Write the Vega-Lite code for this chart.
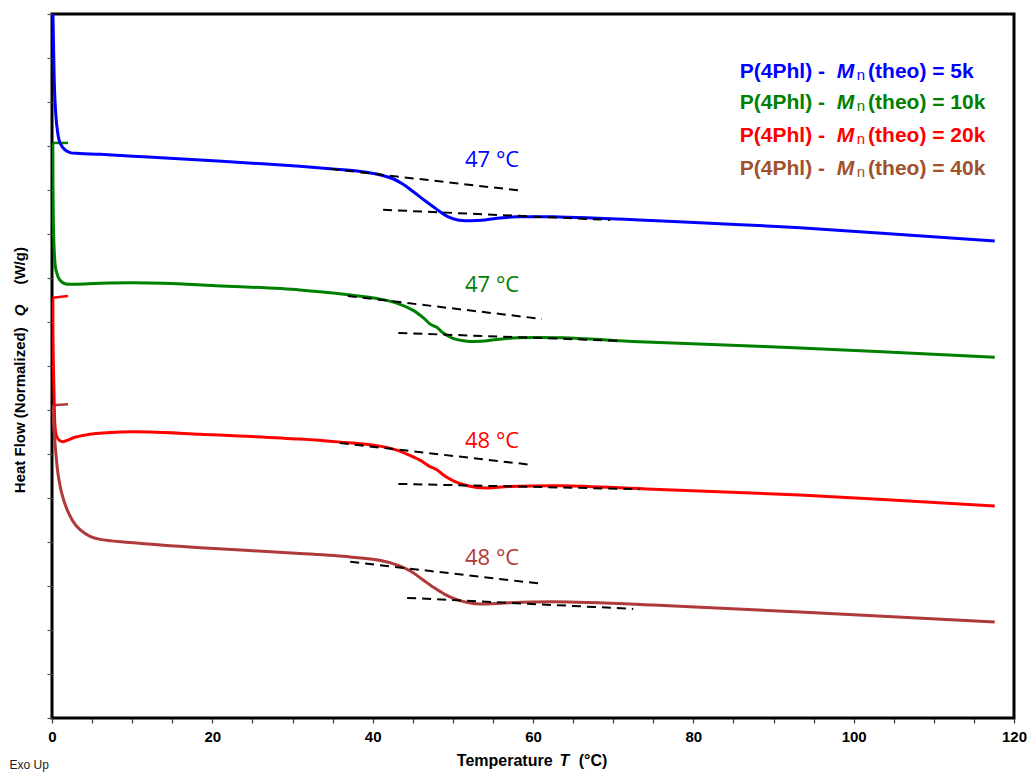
{
  "$schema": "https://vega.github.io/schema/vega-lite/v6.json",
  "width": 962,
  "height": 704,
  "autosize": {"type": "none"},
  "padding": {"left": 52, "top": 14, "right": 13, "bottom": 60},
  "background": "white",
  "config": {
    "view": {"stroke": "black", "strokeWidth": 3},
    "axis": {"grid": false, "domain": false}
  },
  "datasets": {
    "curves": [
      {"s": "5k", "i": 1, "T": 0.06, "Q": 16.32},
      {"s": "5k", "i": 2, "T": 0.12, "Q": 16.0},
      {"s": "5k", "i": 3, "T": 0.25, "Q": 14.73},
      {"s": "5k", "i": 4, "T": 0.37, "Q": 14.05},
      {"s": "5k", "i": 5, "T": 0.62, "Q": 13.43},
      {"s": "5k", "i": 6, "T": 1.0, "Q": 13.07},
      {"s": "5k", "i": 7, "T": 1.62, "Q": 12.91},
      {"s": "5k", "i": 8, "T": 2.25, "Q": 12.85},
      {"s": "5k", "i": 9, "T": 3.5, "Q": 12.83},
      {"s": "5k", "i": 10, "T": 6.0, "Q": 12.81},
      {"s": "5k", "i": 11, "T": 12.0, "Q": 12.75},
      {"s": "5k", "i": 12, "T": 18.5, "Q": 12.68},
      {"s": "5k", "i": 13, "T": 25.0, "Q": 12.61},
      {"s": "5k", "i": 14, "T": 30.9, "Q": 12.54},
      {"s": "5k", "i": 15, "T": 35.0, "Q": 12.48},
      {"s": "5k", "i": 16, "T": 38.5, "Q": 12.42},
      {"s": "5k", "i": 17, "T": 41.0, "Q": 12.34},
      {"s": "5k", "i": 18, "T": 42.6, "Q": 12.25},
      {"s": "5k", "i": 19, "T": 43.7, "Q": 12.14},
      {"s": "5k", "i": 20, "T": 45.0, "Q": 11.97},
      {"s": "5k", "i": 21, "T": 46.5, "Q": 11.76},
      {"s": "5k", "i": 22, "T": 48.0, "Q": 11.56},
      {"s": "5k", "i": 23, "T": 49.3, "Q": 11.40},
      {"s": "5k", "i": 24, "T": 50.6, "Q": 11.32},
      {"s": "5k", "i": 25, "T": 52.0, "Q": 11.30},
      {"s": "5k", "i": 26, "T": 53.6, "Q": 11.31},
      {"s": "5k", "i": 27, "T": 55.5, "Q": 11.36},
      {"s": "5k", "i": 28, "T": 58.0, "Q": 11.39},
      {"s": "5k", "i": 29, "T": 62.5, "Q": 11.39},
      {"s": "5k", "i": 30, "T": 73.3, "Q": 11.32},
      {"s": "5k", "i": 31, "T": 93.3, "Q": 11.14},
      {"s": "5k", "i": 32, "T": 117.6, "Q": 10.84},

      {"s": "10k", "i": 2, "T": 0.1, "Q": 13.07},
      {"s": "10k", "i": 3, "T": 0.14, "Q": 11.77},
      {"s": "10k", "i": 4, "T": 0.27, "Q": 10.64},
      {"s": "10k", "i": 5, "T": 0.5, "Q": 10.18},
      {"s": "10k", "i": 6, "T": 1.0, "Q": 9.95},
      {"s": "10k", "i": 7, "T": 1.62, "Q": 9.87},
      {"s": "10k", "i": 8, "T": 2.87, "Q": 9.86},
      {"s": "10k", "i": 9, "T": 6.0, "Q": 9.88},
      {"s": "10k", "i": 10, "T": 10.0, "Q": 9.89},
      {"s": "10k", "i": 11, "T": 14.0, "Q": 9.88},
      {"s": "10k", "i": 12, "T": 20.0, "Q": 9.83},
      {"s": "10k", "i": 13, "T": 30.9, "Q": 9.73},
      {"s": "10k", "i": 14, "T": 37.0, "Q": 9.62},
      {"s": "10k", "i": 15, "T": 41.0, "Q": 9.52},
      {"s": "10k", "i": 16, "T": 43.0, "Q": 9.43},
      {"s": "10k", "i": 17, "T": 45.0, "Q": 9.27},
      {"s": "10k", "i": 18, "T": 46.3, "Q": 9.10},
      {"s": "10k", "i": 19, "T": 47.2, "Q": 8.95},
      {"s": "10k", "i": 20, "T": 48.0, "Q": 8.88},
      {"s": "10k", "i": 21, "T": 48.8, "Q": 8.75},
      {"s": "10k", "i": 22, "T": 50.0, "Q": 8.63},
      {"s": "10k", "i": 23, "T": 51.5, "Q": 8.57},
      {"s": "10k", "i": 24, "T": 53.4, "Q": 8.56},
      {"s": "10k", "i": 25, "T": 55.5, "Q": 8.60},
      {"s": "10k", "i": 26, "T": 58.0, "Q": 8.64},
      {"s": "10k", "i": 27, "T": 63.7, "Q": 8.64},
      {"s": "10k", "i": 28, "T": 73.3, "Q": 8.55},
      {"s": "10k", "i": 29, "T": 93.3, "Q": 8.41},
      {"s": "10k", "i": 30, "T": 117.6, "Q": 8.2},

      {"s": "20k", "i": 2, "T": 0.1, "Q": 9.55},
      {"s": "20k", "i": 3, "T": 0.14, "Q": 8.36},
      {"s": "20k", "i": 4, "T": 0.27, "Q": 7.23},
      {"s": "20k", "i": 5, "T": 0.39, "Q": 6.6},
      {"s": "20k", "i": 6, "T": 0.62, "Q": 6.38},
      {"s": "20k", "i": 7, "T": 1.0, "Q": 6.3},
      {"s": "20k", "i": 8, "T": 1.37, "Q": 6.28},
      {"s": "20k", "i": 9, "T": 1.87, "Q": 6.31},
      {"s": "20k", "i": 10, "T": 2.87, "Q": 6.38},
      {"s": "20k", "i": 11, "T": 4.74, "Q": 6.45},
      {"s": "20k", "i": 12, "T": 8.5, "Q": 6.5},
      {"s": "20k", "i": 13, "T": 12.2, "Q": 6.5},
      {"s": "20k", "i": 14, "T": 18.5, "Q": 6.45},
      {"s": "20k", "i": 15, "T": 30.9, "Q": 6.34},
      {"s": "20k", "i": 16, "T": 36.0, "Q": 6.27},
      {"s": "20k", "i": 17, "T": 40.5, "Q": 6.19},
      {"s": "20k", "i": 18, "T": 42.8, "Q": 6.1},
      {"s": "20k", "i": 19, "T": 44.5, "Q": 5.98},
      {"s": "20k", "i": 20, "T": 45.9, "Q": 5.86},
      {"s": "20k", "i": 21, "T": 47.1, "Q": 5.72},
      {"s": "20k", "i": 22, "T": 48.0, "Q": 5.64},
      {"s": "20k", "i": 23, "T": 49.0, "Q": 5.5},
      {"s": "20k", "i": 24, "T": 50.2, "Q": 5.38},
      {"s": "20k", "i": 25, "T": 51.6, "Q": 5.29},
      {"s": "20k", "i": 26, "T": 53.0, "Q": 5.24},
      {"s": "20k", "i": 27, "T": 54.5, "Q": 5.23},
      {"s": "20k", "i": 28, "T": 57.0, "Q": 5.26},
      {"s": "20k", "i": 29, "T": 63.4, "Q": 5.28},
      {"s": "20k", "i": 30, "T": 75.0, "Q": 5.2},
      {"s": "20k", "i": 31, "T": 93.3, "Q": 5.07},
      {"s": "20k", "i": 32, "T": 117.6, "Q": 4.82},

      {"s": "40k", "i": 2, "T": 0.1, "Q": 7.11},
      {"s": "40k", "i": 3, "T": 0.14, "Q": 6.9},
      {"s": "40k", "i": 4, "T": 0.27, "Q": 6.5},
      {"s": "40k", "i": 5, "T": 0.5, "Q": 5.98},
      {"s": "40k", "i": 6, "T": 0.75, "Q": 5.55},
      {"s": "40k", "i": 7, "T": 1.25, "Q": 5.08},
      {"s": "40k", "i": 8, "T": 1.87, "Q": 4.74},
      {"s": "40k", "i": 9, "T": 2.62, "Q": 4.47},
      {"s": "40k", "i": 10, "T": 3.49, "Q": 4.28},
      {"s": "40k", "i": 11, "T": 4.74, "Q": 4.13},
      {"s": "40k", "i": 12, "T": 6.0, "Q": 4.06},
      {"s": "40k", "i": 13, "T": 9.7, "Q": 3.99},
      {"s": "40k", "i": 14, "T": 18.5, "Q": 3.87},
      {"s": "40k", "i": 15, "T": 30.9, "Q": 3.74},
      {"s": "40k", "i": 16, "T": 37.2, "Q": 3.66},
      {"s": "40k", "i": 17, "T": 41.0, "Q": 3.58},
      {"s": "40k", "i": 18, "T": 43.2, "Q": 3.47},
      {"s": "40k", "i": 19, "T": 44.7, "Q": 3.34},
      {"s": "40k", "i": 20, "T": 46.2, "Q": 3.15},
      {"s": "40k", "i": 21, "T": 47.5, "Q": 2.98},
      {"s": "40k", "i": 22, "T": 49.0, "Q": 2.81},
      {"s": "40k", "i": 23, "T": 50.5, "Q": 2.69},
      {"s": "40k", "i": 24, "T": 52.0, "Q": 2.62},
      {"s": "40k", "i": 25, "T": 53.5, "Q": 2.59},
      {"s": "40k", "i": 26, "T": 56.0, "Q": 2.61},
      {"s": "40k", "i": 27, "T": 62.5, "Q": 2.64},
      {"s": "40k", "i": 28, "T": 75.0, "Q": 2.57},
      {"s": "40k", "i": 29, "T": 93.3, "Q": 2.41},
      {"s": "40k", "i": 30, "T": 117.6, "Q": 2.18}
    ],
    "flags": [
      {"s": "10k", "T": 2.0, "Q": 13.07},
      {"s": "10k", "T": 0.1, "Q": 13.07},
      {"s": "20k", "T": 2.0, "Q": 9.59},
      {"s": "20k", "T": 0.1, "Q": 9.55},
      {"s": "40k", "T": 2.0, "Q": 7.13},
      {"s": "40k", "T": 0.1, "Q": 7.11}
    ],
    "tangents": [
      {"seg": "b1", "T": 34.7, "Q": 12.48},
      {"seg": "b1", "T": 58.75, "Q": 11.98},
      {"seg": "b2", "T": 41.3, "Q": 11.55},
      {"seg": "b2", "T": 69.6, "Q": 11.32},
      {"seg": "g1", "T": 36.9, "Q": 9.59},
      {"seg": "g1", "T": 61.1, "Q": 9.07},
      {"seg": "g2", "T": 43.2, "Q": 8.75},
      {"seg": "g2", "T": 71.2, "Q": 8.57},
      {"seg": "r1", "T": 35.9, "Q": 6.25},
      {"seg": "r1", "T": 60.0, "Q": 5.75},
      {"seg": "r2", "T": 43.2, "Q": 5.32},
      {"seg": "r2", "T": 73.3, "Q": 5.2},
      {"seg": "w1", "T": 37.2, "Q": 3.55},
      {"seg": "w1", "T": 61.1, "Q": 3.05},
      {"seg": "w2", "T": 44.3, "Q": 2.73},
      {"seg": "w2", "T": 72.5, "Q": 2.48}
    ],
    "tg": [
      {"s": "5k", "T": 54.9, "Q": 12.68, "text": "47 °C"},
      {"s": "10k", "T": 54.9, "Q": 9.84, "text": "47 °C"},
      {"s": "20k", "T": 54.9, "Q": 6.3, "text": "48 °C"},
      {"s": "40k", "T": 54.9, "Q": 3.64, "text": "48 °C"}
    ],
    "legend": [
      {"s": "5k", "part": "a", "T": 85.8, "Q": 14.68, "text": "P(4Phl) -"},
      {"s": "5k", "part": "M", "T": 97.9, "Q": 14.68, "text": "M"},
      {"s": "5k", "part": "n", "T": 100.4, "Q": 14.68, "text": "n"},
      {"s": "5k", "part": "r", "T": 101.8, "Q": 14.68, "text": "(theo) = 5k"},
      {"s": "10k", "part": "a", "T": 85.8, "Q": 13.98, "text": "P(4Phl) -"},
      {"s": "10k", "part": "M", "T": 97.9, "Q": 13.98, "text": "M"},
      {"s": "10k", "part": "n", "T": 100.4, "Q": 13.98, "text": "n"},
      {"s": "10k", "part": "r", "T": 101.8, "Q": 13.98, "text": "(theo) = 10k"},
      {"s": "20k", "part": "a", "T": 85.8, "Q": 13.23, "text": "P(4Phl) -"},
      {"s": "20k", "part": "M", "T": 97.9, "Q": 13.23, "text": "M"},
      {"s": "20k", "part": "n", "T": 100.4, "Q": 13.23, "text": "n"},
      {"s": "20k", "part": "r", "T": 101.8, "Q": 13.23, "text": "(theo) = 20k"},
      {"s": "40L", "part": "a", "T": 85.8, "Q": 12.48, "text": "P(4Phl) -"},
      {"s": "40L", "part": "M", "T": 97.9, "Q": 12.48, "text": "M"},
      {"s": "40L", "part": "n", "T": 100.4, "Q": 12.48, "text": "n"},
      {"s": "40L", "part": "r", "T": 101.8, "Q": 12.48, "text": "(theo) = 40k"}
    ],
    "titles": [
      {"part": "xa", "T": 50.5, "Q": -0.98, "text": "Temperature"},
      {"part": "xT", "T": 63.3, "Q": -0.98, "text": "T"},
      {"part": "xc", "T": 65.7, "Q": -0.98, "text": "(°C)"},
      {"part": "ya", "T": -4.0, "Q": 5.11, "text": "Heat Flow (Normalized)"},
      {"part": "yQ", "T": -4.0, "Q": 9.13, "text": "Q"},
      {"part": "yc", "T": -4.0, "Q": 9.85, "text": "(W/g)"},
      {"part": "exo", "T": -5.3, "Q": -1.07, "text": "Exo Up"}
    ]
  },
  "encoding": {
    "x": {
      "field": "T", "type": "quantitative",
      "scale": {"domain": [0, 120], "nice": false, "zero": false},
      "axis": {
        "values": [0,5,10,15,20,25,30,35,40,45,50,55,60,65,70,75,80,85,90,95,100,105,110,115,120],
        "labelExpr": "datum.value % 20 === 0 ? datum.label : ''",
        "title": null, "tickSize": 5, "tickColor": "#333", "tickWidth": 1.2,
        "labelFont": "Liberation Sans", "labelFontWeight": "bold", "labelFontSize": 15,
        "labelColor": "black", "labelPadding": 6, "labelFlush": false, "labelOverlap": false
      }
    },
    "y": {
      "field": "Q", "type": "quantitative",
      "scale": {"domain": [0, 16], "nice": false, "zero": false},
      "axis": {
        "values": [0,1,2,3,4,5,6,7,8,9,10,11,12,13,14,15,16],
        "labels": false, "title": null, "tickSize": 5, "tickColor": "#555", "tickWidth": 1.2
      }
    },
    "color": {
      "field": "s", "type": "nominal",
      "scale": {"domain": ["5k", "10k", "20k", "40k", "40L"], "range": ["#0000FF", "#008000", "#FF0000", "#B03A3A", "#A0522D"]},
      "legend": null
    }
  },
  "layer": [
    {
      "data": {"name": "flags"},
      "mark": {"type": "line", "strokeWidth": 2.5, "clip": true},
      "encoding": {}
    },
    {
      "data": {"name": "curves"},
      "mark": {"type": "line", "strokeWidth": 3, "clip": true, "interpolate": "catmull-rom"},
      "encoding": {"order": {"field": "i", "type": "quantitative"}}
    },
    {
      "data": {"name": "tangents"},
      "mark": {"type": "line", "strokeWidth": 2, "strokeDash": [9, 6]},
      "encoding": {"detail": {"field": "seg", "type": "nominal"}, "color": {"value": "black"}}
    },
    {
      "data": {"name": "tg"},
      "mark": {"type": "text", "font": "Open Sans", "fontSize": 22, "align": "center", "baseline": "middle"},
      "encoding": {"text": {"field": "text"}}
    },
    {
      "data": {"name": "legend"},
      "transform": [{"filter": "datum.part === 'a' || datum.part === 'r'"}],
      "mark": {"type": "text", "font": "Liberation Sans", "fontWeight": "bold", "fontSize": 21, "align": "left", "baseline": "middle"},
      "encoding": {"text": {"field": "text"}}
    },
    {
      "data": {"name": "legend"},
      "transform": [{"filter": "datum.part === 'M'"}],
      "mark": {"type": "text", "font": "Liberation Sans", "fontWeight": "bold", "fontStyle": "italic", "fontSize": 21, "align": "left", "baseline": "middle"},
      "encoding": {"text": {"field": "text"}}
    },
    {
      "data": {"name": "legend"},
      "transform": [{"filter": "datum.part === 'n'"}],
      "mark": {"type": "text", "font": "Liberation Sans", "fontSize": 15, "align": "left", "baseline": "middle", "dy": 3},
      "encoding": {"text": {"field": "text"}}
    },
    {
      "data": {"name": "titles"},
      "transform": [{"filter": "datum.part === 'xa' || datum.part === 'xc'"}],
      "mark": {"type": "text", "font": "Liberation Sans", "fontWeight": "bold", "fontSize": 16, "align": "left", "baseline": "middle"},
      "encoding": {"text": {"field": "text"}, "color": {"value": "black"}}
    },
    {
      "data": {"name": "titles"},
      "transform": [{"filter": "datum.part === 'xT'"}],
      "mark": {"type": "text", "font": "Liberation Sans", "fontWeight": "bold", "fontStyle": "italic", "fontSize": 16, "align": "left", "baseline": "middle"},
      "encoding": {"text": {"field": "text"}, "color": {"value": "black"}}
    },
    {
      "data": {"name": "titles"},
      "transform": [{"filter": "datum.part === 'ya' || datum.part === 'yc'"}],
      "mark": {"type": "text", "font": "Liberation Sans", "fontWeight": "bold", "fontSize": 15, "align": "left", "baseline": "middle", "angle": 270},
      "encoding": {"text": {"field": "text"}, "color": {"value": "black"}}
    },
    {
      "data": {"name": "titles"},
      "transform": [{"filter": "datum.part === 'yQ'"}],
      "mark": {"type": "text", "font": "Liberation Sans", "fontWeight": "bold", "fontStyle": "italic", "fontSize": 15, "align": "left", "baseline": "middle", "angle": 270},
      "encoding": {"text": {"field": "text"}, "color": {"value": "black"}}
    },
    {
      "data": {"name": "titles"},
      "transform": [{"filter": "datum.part === 'exo'"}],
      "mark": {"type": "text", "font": "Liberation Sans", "fontSize": 12, "align": "left", "baseline": "middle"},
      "encoding": {"text": {"field": "text"}, "color": {"value": "#222"}}
    }
  ]
}
